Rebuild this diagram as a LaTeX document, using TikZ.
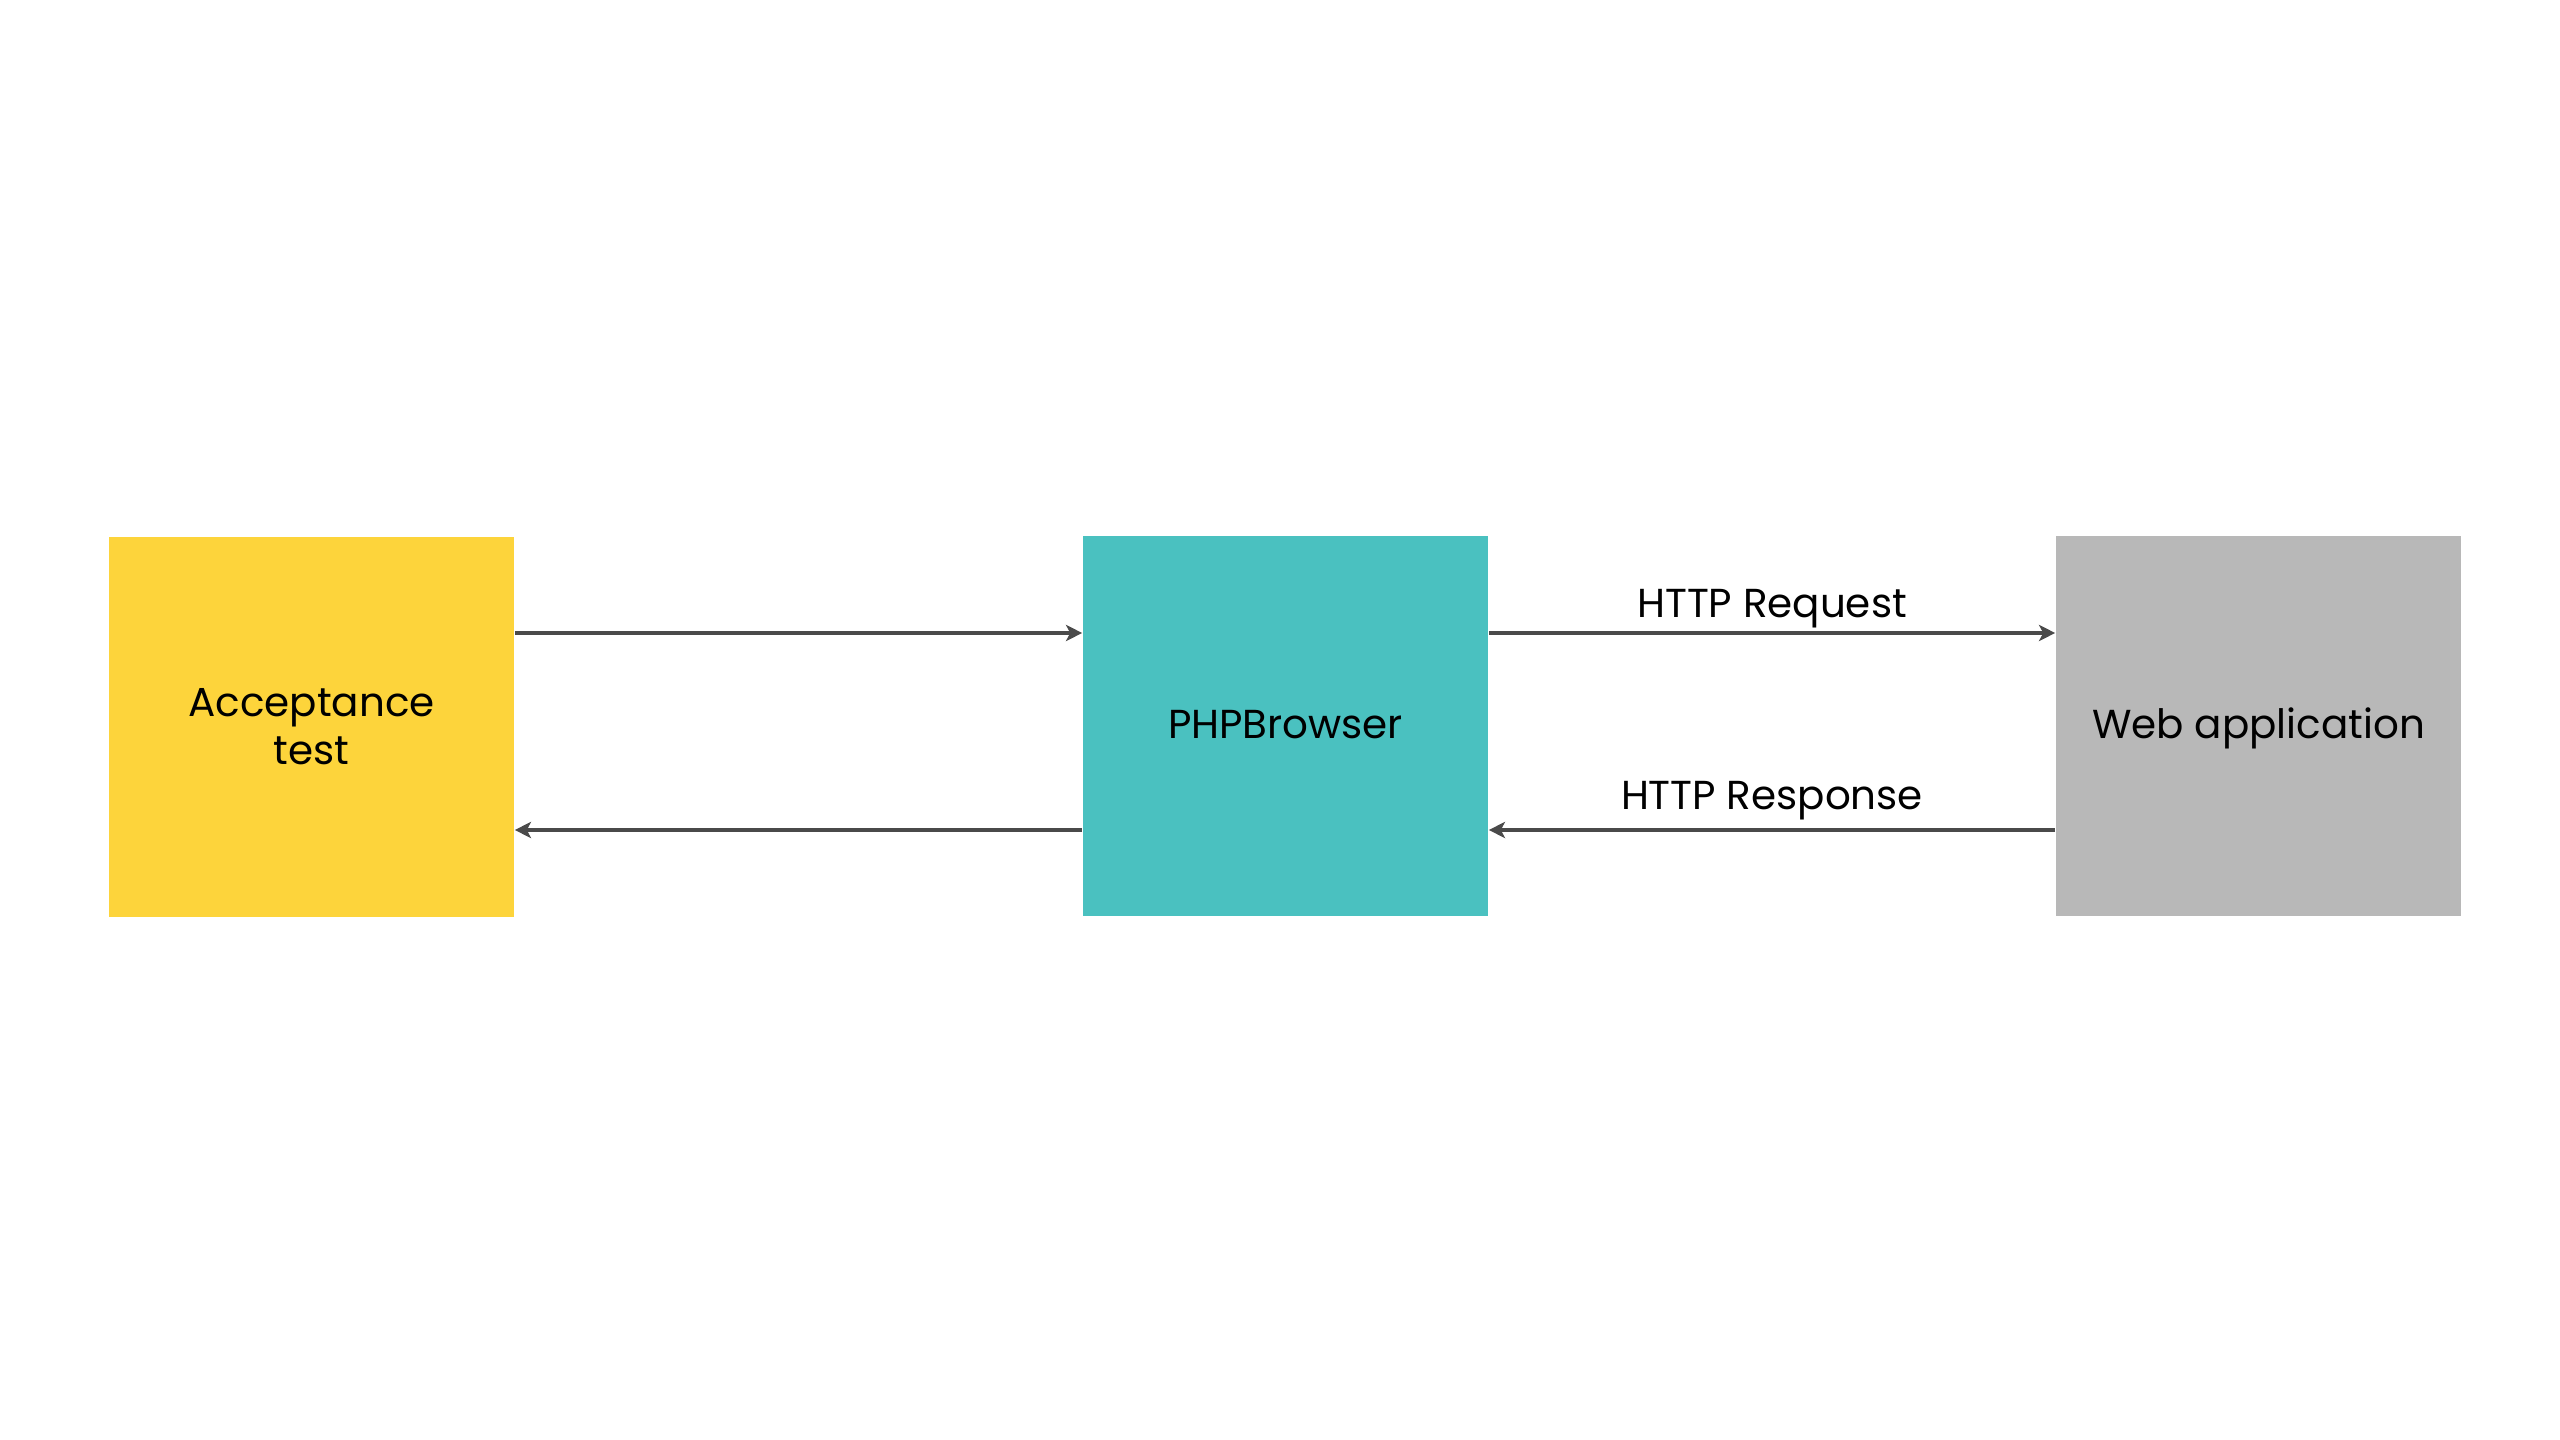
\documentclass[tikz,border=0pt]{standalone}
\usepackage{fontspec}
\setmainfont{Poppins}
\usetikzlibrary{arrows.meta}
\definecolor{accyellow}{HTML}{FDD43B}
\definecolor{phpteal}{HTML}{4AC1C0}
\definecolor{webgray}{HTML}{B8B8B8}
\definecolor{arrowgray}{HTML}{4A4A4A}
\begin{document}
\begin{tikzpicture}[x=0.01cm,y=-0.01cm,
  box/.style={draw=none,minimum width=4.05cm,minimum height=3.8cm,inner sep=0pt,
    font=\fontsize{11.5}{13.6}\selectfont,text=black,align=center},
  oneline/.style={text height=0.7em,text depth=0pt},
  conn/.style={draw=arrowgray,line width=0.9pt,-{Stealth[length=4.6pt,width=4.6pt,inset=1.2pt]}},
  lbl/.style={font=\fontsize{11.5}{13.6}\selectfont,text=black,inner sep=0pt}]
\useasboundingbox (0,0) rectangle (2560,1440);
\fill[white] (0,0) rectangle (2560,1440);
\node[box,fill=accyellow] (acc) at (311.5,727) {Acceptance\\test};
\node[box,oneline,fill=phpteal] (php) at (1285.5,726) {PHPBrowser};
\node[box,oneline,fill=webgray] (web) at (2258.5,726) {Web application};
\draw[conn] (acc.east |- 0,633) -- (php.west |- 0,633);
\draw[conn] (php.west |- 0,830) -- (acc.east |- 0,830);
\draw[conn] (php.east |- 0,633) -- (web.west |- 0,633);
\draw[conn] (web.west |- 0,830) -- (php.east |- 0,830);
\node[lbl,anchor=base] (req) at (1772,618) {HTTP Request};
\node[lbl,anchor=base] (res) at (1772,810) {HTTP Response};
\end{tikzpicture}
\end{document}
